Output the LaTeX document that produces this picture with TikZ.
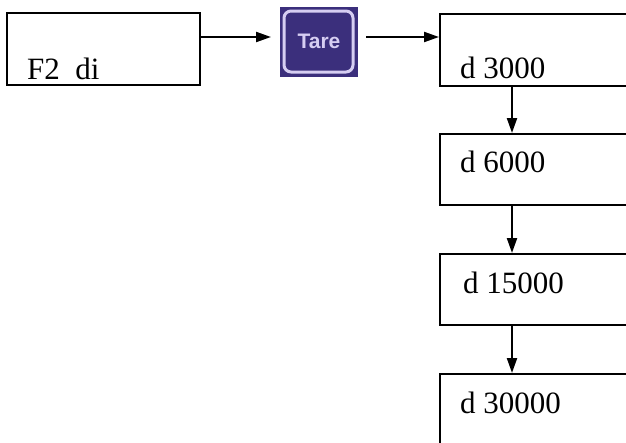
\documentclass[tikz,border=0pt]{standalone}
\usepackage{fontspec}
\setmainfont{Liberation Serif}
\newfontfamily\iconfont{Liberation Sans}
\usetikzlibrary{arrows.meta}
\definecolor{tarebg}{HTML}{3B2F7C}
\definecolor{tareline}{HTML}{D6CEF2}
\begin{document}
\begin{tikzpicture}[x=1pt,y=-1pt,
  box/.style={draw=black,line width=1.7pt,fill=white},
  lbl/.style={anchor=base west,inner sep=0pt,font=\fontsize{31}{31}\selectfont},
  conn/.style={line width=2.2pt,-{Triangle[length=15pt,width=10pt]}}]
\useasboundingbox (0,0) rectangle (626,442);
% boxes
\node[box,minimum width=193pt,minimum height=72pt,inner sep=0pt] (f2) at (103.5,49) {};
\node[box,minimum width=200pt,minimum height=72pt,inner sep=0pt,anchor=north west] (b1) at (439,13) {};
\node[box,minimum width=200pt,minimum height=71pt,inner sep=0pt,anchor=north west] (b2) at (439,133) {};
\node[box,minimum width=200pt,minimum height=71pt,inner sep=0pt,anchor=north west] (b3) at (439,253) {};
\node[box,minimum width=200pt,minimum height=80pt,inner sep=0pt,anchor=north west] (b4) at (439,373) {};
% texts
\node[lbl] (t0) at (27,79) {F2\ \ di};
\node[lbl] (t1) at (460,78) {d 3000};
\node[lbl] (t2) at (460,172) {d 6000};
\node[lbl] (t3) at (463,293) {d 15000};
\node[lbl] (t4) at (460,413) {d 30000};
% Tare icon
\node[fill=tarebg,minimum width=78pt,minimum height=70pt,inner sep=0pt] (tare) at (319,42) {};
\draw[tareline,line width=3pt,rounded corners=7pt] (284,11) rectangle (353,72);
\node[text=tareline,font=\iconfont\bfseries\fontsize{21}{21}\selectfont,inner sep=0pt] (taretxt) at ([yshift=1pt]tare.center) {Tare};
% connectors
\coordinate (a1e) at (271,37);
\draw[conn] (f2.east |- a1e) -- (a1e);
\coordinate (a2s) at (366,37);
\draw[conn] (a2s) -- (b1.west |- a2s);
\draw[conn] (b1.south -| 512,0) -- (b2.north -| 512,0);
\draw[conn] (b2.south -| 512,0) -- (b3.north -| 512,0);
\draw[conn] (b3.south -| 512,0) -- (b4.north -| 512,0);
\end{tikzpicture}
\end{document}
